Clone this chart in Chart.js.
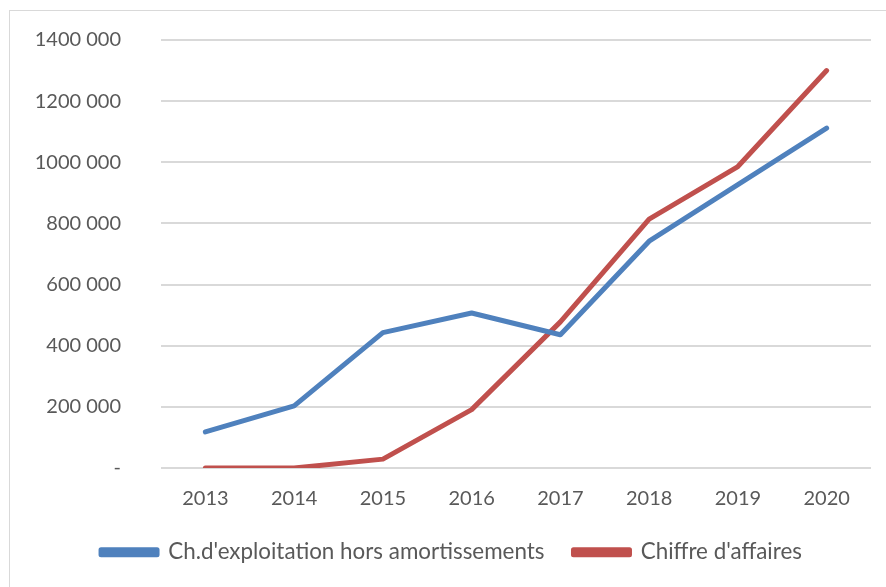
<!DOCTYPE html>
<html>
<head>
<meta charset="utf-8">
<script src="https://cdn.jsdelivr.net/npm/chart.js@4"></script>
<style>
  html, body { margin: 0; padding: 0; background: #fff; }
  #wrap { position: relative; width: 886px; height: 587px; }
  #frame { position: absolute; left: 9px; top: 10px; width: 900px; height: 600px; border: 1px solid #d9d9d9; box-sizing: border-box; }
  canvas { position: absolute; left: 0; top: 0; }
</style>
</head>
<body>
<div id="wrap">
  <div id="frame"></div>
  <canvas id="lineChart" width="886" height="587"></canvas>
</div>
<script>
const years = ['2013', '2014', '2015', '2016', '2017', '2018', '2019', '2020'];
const chargesExploitation = [118000, 203000, 443000, 507000, 436000, 742000, 927000, 1112000];
const chiffreAffaires = [0, 0, 29000, 191000, 478000, 814000, 986000, 1300000];
const yTicks = [0, 200000, 400000, 600000, 800000, 1000000, 1200000, 1400000];

const textColor = '#595959';
const ctx = document.getElementById('lineChart').getContext('2d');
new Chart(ctx, {
    type: 'line',
    data: {
        labels: years,
        datasets: [
            { label: "Ch.d'exploitation hors amortissements", data: chargesExploitation, borderColor: '#4f81bd', backgroundColor: '#4f81bd', borderWidth: 5, tension: 0, pointRadius: 0, borderCapStyle: 'round', borderJoinStyle: 'round' },
            { label: "Chiffre d'affaires", data: chiffreAffaires, borderColor: '#c0504d', backgroundColor: '#c0504d', borderWidth: 5, tension: 0, pointRadius: 0, borderCapStyle: 'round', borderJoinStyle: 'round' }
        ]
    },
    options: {
        responsive: false,
        animation: false,
        layout: { padding: { left: 32, right: 15, top: 40, bottom: 13.6 } },
        scales: {
            x: {
                offset: true,
                afterFit: (scale) => { scale.height = 44; },
                grid: { display: false, drawTicks: false },
                border: { display: false },
                ticks: { color: textColor, font: { family: 'Lato', size: 20 }, padding: 19 }
            },
            y: {
                min: 0,
                max: 1400000,
                afterFit: (scale) => { scale.width = 129; scale.paddingTop = 0; scale.paddingBottom = 0; },
                afterBuildTicks: (scale) => { scale.ticks = yTicks.map(v => ({ value: v })); },
                grid: { color: '#d9d9d9', lineWidth: 2, drawTicks: false },
                border: { display: false },
                ticks: {
                    color: textColor,
                    font: { family: 'Lato', size: 20 },
                    padding: 40,
                    callback: (v) => v === 0 ? '-' : (v / 1000) + ' 000'
                }
            }
        },
        plugins: {
            legend: {
                position: 'bottom',
                labels: { color: textColor, font: { family: 'Lato', size: 22.4 }, boxWidth: 56, boxHeight: 5, padding: 29 }
            },
            tooltip: { enabled: false }
        }
    }
});
</script>
</body>
</html>
